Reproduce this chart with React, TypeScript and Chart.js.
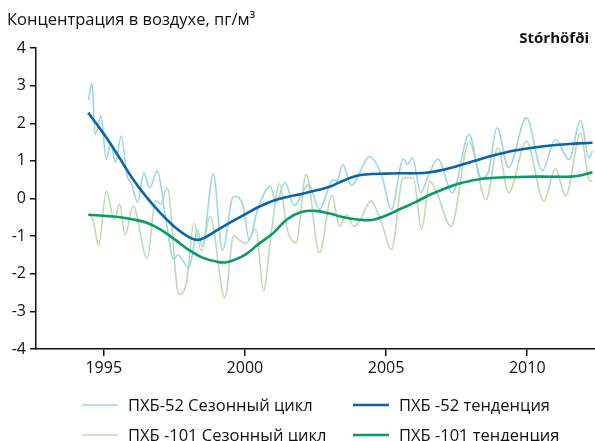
import React, { useEffect, useRef } from "react";
import { Chart, registerables } from "chart.js";

Chart.register(...registerables);

const FONT = "'Open Sans', 'Noto Sans', sans-serif";

const yAxisTitle = "Концентрация в воздухе, пг/м³";
const stationName = "Stórhöfði";
const xTickValues = [1995, 2000, 2005, 2010];
const yTickValues = [-4, -3, -2, -1, 0, 1, 2, 3, 4];
const seriesLabels = [
  "ПХБ-52 Сезонный цикл",
  "ПХБ -52 тенденция",
  "ПХБ -101 Сезонный цикл",
  "ПХБ -101 тенденция",
];

// ПХБ-52 seasonal cycle
const pcb52SeasonYears = [
  1994.46, 1994.58, 1994.7, 1994.9, 1995.09, 1995.25, 1995.41, 1995.62, 1995.83, 1995.98,
  1996.2, 1996.42, 1996.63, 1996.89, 1997.19, 1997.48, 1997.62, 1998.02, 1998.32, 1998.49,
  1998.88, 1999.2, 1999.6, 1999.92, 2000.15, 2000.45, 2000.9, 2001.1, 2001.42, 2001.75,
  2002.25, 2002.64, 2003.12, 2003.25, 2003.47, 2003.77, 2004.42, 2004.84, 2005.19, 2005.61,
  2005.76, 2005.93, 2006.23, 2006.47, 2006.83, 2007.35, 2007.94, 2008.37, 2008.61, 2008.93,
  2009.34, 2009.97, 2010.53, 2011.0, 2011.48, 2011.89, 2012.19, 2012.31,
];
const pcb52SeasonValues = [
  2.61, 3.06, 1.7, 2.19, 1.04, 1.48, 0.96, 1.66, 0.59, 0.4,
  -0.1, 0.68, 0.28, 0.73, -0.5, -1.62, -1.5, -1.84, -0.84, -1.27,
  0.66, -1.38, 0.06, -0.15, -1.09, -0.29, 0.33, -0.11, 0.43, -0.19,
  0.37, -0.29, 0.5, 0.45, 0.9, 0.35, 1.11, 0.62, -0.29, 1.05,
  0.9, 1.08, 0.15, 0.55, 1.05, 0.15, 1.7, 0.55, 0.68, 1.88,
  0.82, 2.15, 0.74, 1.57, 1.04, 2.08, 1.08, 1.26,
];

// ПХБ-52 trend
const pcb52TrendYears = [
  1994.45, 1995.0, 1995.5, 1996.0, 1996.5, 1997.0, 1997.5, 1998.0, 1998.3, 1998.6,
  1999.0, 1999.5, 2000.0, 2000.5, 2001.0, 2001.5, 2002.0, 2002.5, 2003.0, 2003.5,
  2004.0, 2004.5, 2005.0, 2005.5, 2006.0, 2006.5, 2007.0, 2007.5, 2008.0, 2008.5,
  2009.0, 2009.5, 2010.0, 2010.5, 2011.0, 2011.5, 2012.0, 2012.31,
];
const pcb52TrendValues = [
  2.28, 1.72, 1.15, 0.55, 0.05, -0.38, -0.75, -1.02, -1.1, -1.03,
  -0.85, -0.63, -0.42, -0.22, -0.06, 0.04, 0.12, 0.21, 0.31, 0.48,
  0.61, 0.65, 0.66, 0.67, 0.67, 0.69, 0.76, 0.86, 0.97, 1.08,
  1.18, 1.27, 1.33, 1.38, 1.42, 1.45, 1.47, 1.48,
];

// ПХБ-101 seasonal cycle
const pcb101SeasonYears = [
  1994.49, 1994.63, 1994.82, 1995.09, 1995.37, 1995.56, 1995.76, 1996.04, 1996.54, 1996.83,
  1997.01, 1997.25, 1997.66, 1997.94, 1998.19, 1998.46, 1998.76, 1999.29, 1999.6, 1999.8,
  2000.03, 2000.39, 2000.66, 2000.92, 2001.22, 2001.5, 2001.81, 2002.17, 2002.64, 2003.08,
  2003.35, 2003.59, 2003.87, 2004.1, 2004.46, 2004.84, 2005.19, 2005.61, 2005.96, 2006.26,
  2006.55, 2006.8, 2007.3, 2007.94, 2008.54, 2008.96, 2009.34, 2009.97, 2010.59, 2011.0,
  2011.36, 2011.89, 2012.19, 2012.31,
];
const pcb101SeasonValues = [
  -0.43, -0.6, -1.25, 0.2, -0.57, -0.15, -0.97, -0.2, -1.6, -0.05,
  -0.15, 0.28, -2.55, -2.2, -0.65, -1.4, -0.47, -2.64, -0.98, -1.1,
  -1.2, -0.81, -2.46, -1.0, 0.4, -0.82, -1.18, 0.64, -1.44, 0.08,
  -0.74, -0.43, -0.74, -0.55, -0.07, -0.65, -1.36, 0.55, 0.55, -0.82,
  0.46, 0.15, -0.74, 1.5, -0.03, 1.35, 0.15, 1.52, -0.07, 0.79,
  0.06, 1.73, 0.5, 0.46,
];

// ПХБ-101 trend
const pcb101TrendYears = [
  1994.45, 1995.0, 1995.5, 1996.0, 1996.5, 1997.0, 1997.5, 1998.0, 1998.5, 1999.0,
  1999.3, 1999.6, 2000.0, 2000.5, 2001.0, 2001.5, 2002.0, 2002.5, 2003.0, 2003.5,
  2004.0, 2004.5, 2005.0, 2005.5, 2006.0, 2006.5, 2007.0, 2007.5, 2008.0, 2008.5,
  2009.0, 2010.0, 2011.0, 2011.7, 2012.31,
];
const pcb101TrendValues = [
  -0.43, -0.46, -0.49, -0.55, -0.64, -0.82, -1.08, -1.36, -1.57, -1.68,
  -1.7, -1.64, -1.5, -1.2, -0.92, -0.55, -0.36, -0.33, -0.4, -0.5,
  -0.56, -0.57, -0.45, -0.28, -0.11, 0.08, 0.24, 0.38, 0.47, 0.53,
  0.56, 0.58, 0.58, 0.59, 0.7,
];

const zip = (xs: number[], ys: number[]) => xs.map((x, i) => ({ x, y: ys[i] }));

const textPlugin = {
  id: "customTexts",
  afterDraw(chart: any) {
    const ctx = chart.ctx;
    ctx.save();
    ctx.fillStyle = "#111";
    ctx.textBaseline = "alphabetic";
    ctx.textAlign = "left";
    ctx.font = `16.5px ${FONT}`;
    ctx.fillText(yAxisTitle, 7, 25);
    ctx.font = `bold 15px ${FONT}`;
    ctx.textAlign = "right";
    ctx.fillText(stationName, 589, 43);

    const cols = [82, 353];
    const rows = [405, 435];
    const lineLen = 36;
    ctx.font = `16.5px ${FONT}`;
    ctx.textAlign = "left";
    ctx.textBaseline = "middle";
    chart.data.datasets.forEach((ds: any, i: number) => {
      const cx = cols[i % 2];
      const cy = rows[Math.floor(i / 2)];
      ctx.strokeStyle = ds.borderColor;
      ctx.lineWidth = ds.borderWidth;
      ctx.beginPath();
      ctx.moveTo(cx, cy);
      ctx.lineTo(cx + lineLen, cy);
      ctx.stroke();
      ctx.fillStyle = "#111";
      ctx.fillText(ds.label, cx + lineLen + 10, cy + 1);
    });
    ctx.restore();
  },
};

export default function App() {
  const canvasRef = useRef<HTMLCanvasElement | null>(null);

  useEffect(() => {
    if (!canvasRef.current) return;
    const axisColor = "#111";
    const chart = new Chart(canvasRef.current, {
      type: "line",
      data: {
        datasets: [
          {
            label: seriesLabels[0],
            data: zip(pcb52SeasonYears, pcb52SeasonValues),
            borderColor: "#9fd5e6",
            borderWidth: 1.6,
            pointRadius: 0,
            cubicInterpolationMode: "monotone",
            order: 2,
          },
          {
            label: seriesLabels[1],
            data: zip(pcb52TrendYears, pcb52TrendValues),
            borderColor: "#0a64a8",
            borderWidth: 2.6,
            pointRadius: 0,
            tension: 0.4,
            order: 0,
          },
          {
            label: seriesLabels[2],
            data: zip(pcb101SeasonYears, pcb101SeasonValues),
            borderColor: "#bcdcb0",
            borderWidth: 1.6,
            pointRadius: 0,
            cubicInterpolationMode: "monotone",
            order: 3,
          },
          {
            label: seriesLabels[3],
            data: zip(pcb101TrendYears, pcb101TrendValues),
            borderColor: "#0a9a64",
            borderWidth: 2.6,
            pointRadius: 0,
            tension: 0.4,
            order: 1,
          },
        ],
      },
      options: {
        responsive: false,
        animation: false,
        devicePixelRatio: 1,
        layout: { padding: { top: 48, left: 0, right: 0, bottom: 0 } },
        plugins: {
          legend: { display: false },
          tooltip: { enabled: false },
          title: { display: false },
        },
        scales: {
          x: {
            type: "linear",
            min: 1992.6,
            max: 2012.4,
            afterBuildTicks: (s: any) => {
              s.ticks = xTickValues.map((v) => ({ value: v }));
            },
            afterFit: (s: any) => {
              s.height = 92;
            },
            grid: {
              display: true,
              drawOnChartArea: false,
              drawTicks: true,
              tickLength: 7,
              color: axisColor,
              lineWidth: 1.5,
            },
            border: { display: true, color: axisColor, width: 1.5 },
            ticks: {
              color: axisColor,
              font: { family: FONT, size: 16 },
              padding: 3,
              maxRotation: 0,
              autoSkip: false,
              callback: (v: any) => String(v),
            },
          },
          y: {
            type: "linear",
            min: -4,
            max: 4,
            afterBuildTicks: (s: any) => {
              s.ticks = yTickValues.map((v) => ({ value: v }));
            },
            afterFit: (s: any) => {
              s.width = 36;
            },
            grid: {
              display: true,
              drawOnChartArea: false,
              drawTicks: true,
              tickLength: 6,
              color: axisColor,
              lineWidth: 1.5,
            },
            border: { display: true, color: axisColor, width: 1.5 },
            ticks: {
              color: axisColor,
              font: { family: FONT, size: 16 },
              padding: 4,
              callback: (v: any) => String(v),
            },
          },
        },
      },
      plugins: [textPlugin],
    } as any);
    return () => chart.destroy();
  }, []);

  return (
    <div style={{ position: "absolute", left: 0, top: 0, width: 595, height: 441, background: "#fff" }}>
      <canvas ref={canvasRef} width={595} height={441} />
    </div>
  );
}
